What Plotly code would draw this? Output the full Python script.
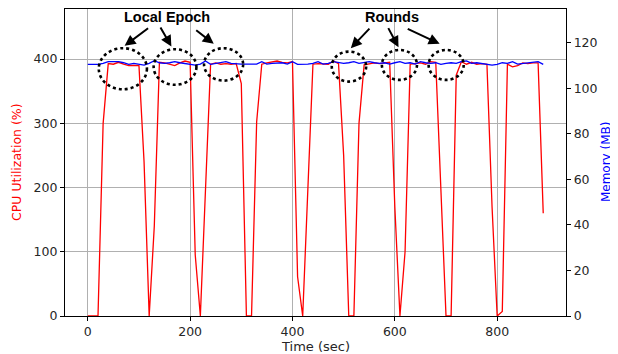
import plotly.graph_objects as go

# Sampling times (sec)
time_sec = [0, 10, 20, 30, 40, 50, 60, 70, 80, 90,
            100, 110, 120, 130, 140, 150, 160, 170, 180, 190,
            200, 210, 220, 230, 240, 250, 260, 270, 280, 290,
            300, 310, 320, 330, 340, 350, 360, 370, 380, 390,
            400, 410, 420, 430, 440, 450, 460, 470, 480, 490,
            500, 510, 520, 530, 540, 550, 560, 570, 580, 590,
            600, 610, 620, 630, 640, 650, 660, 670, 680, 690,
            700, 710, 720, 730, 740, 750, 760, 770, 780, 790,
            800, 810, 820, 830, 840, 850, 860, 870, 880, 890]

cpu_util = [0, 0, 0, 300, 393, 392, 395, 392, 390, 390,
            390, 240, 0, 140, 395, 394, 392, 390, 394, 397,
            395, 95, 0, 210, 392, 394, 392, 393, 392, 393,
            362, 0, 0, 302, 392, 394, 395, 397, 395, 394,
            396, 61, 0, 200, 392, 393, 392, 392, 397, 393,
            250, 0, 0, 300, 391, 393, 394, 393, 394, 395,
            170, 0, 100, 392, 393, 394, 392, 396, 395, 201,
            0, 0, 375, 396, 392, 395, 392, 393, 392, 170,
            0, 7, 392, 388, 390, 394, 393, 394, 394, 160]

memory_mb = [110.5, 110.5, 110.5, 110.9, 111.7, 111.7, 111.7, 111.2, 110.5, 110.9,
             110.5, 110.2, 110.9, 112.1, 111.2, 110.9, 111.2, 111.7, 111.2, 110.9,
             110.5, 110.2, 110.6, 112.0, 110.5, 110.9, 111.2, 111.7, 110.9, 110.6,
             110.6, 110.6, 110.6, 110.6, 111.7, 110.6, 110.9, 110.9, 111.2, 110.6,
             111.7, 110.5, 110.5, 110.6, 110.9, 111.7, 110.6, 110.9, 111.7, 111.2,
             110.9, 111.2, 111.7, 110.9, 111.2, 111.7, 111.2, 110.9, 111.2, 110.6,
             111.2, 111.7, 110.9, 111.2, 110.6, 111.7, 111.2, 110.9, 111.2, 110.5,
             110.9, 111.2, 110.9, 111.7, 112.0, 110.9, 111.2, 110.9, 110.5, 110.2,
             110.5, 111.2, 110.9, 111.7, 110.6, 110.9, 110.9, 111.2, 111.7, 110.5]

x_ticks = [0, 200, 400, 600, 800]
cpu_ticks = [0, 100, 200, 300, 400]
mem_ticks = [0, 20, 40, 60, 80, 100, 120]

FONT = "DejaVu Sans"
TICKCOL = "#262626"

fig = go.Figure()
fig.add_trace(go.Scatter(x=time_sec, y=cpu_util, mode="lines",
                         line=dict(color="#ff0000", width=1.3),
                         name="CPU", showlegend=False))
fig.add_trace(go.Scatter(x=time_sec, y=memory_mb, mode="lines", yaxis="y2",
                         line=dict(color="#0000ff", width=1.3),
                         name="Memory", showlegend=False))

# dotted circles (x in sec, y in CPU %)
circles = [
    (21.5, 353, 115.6, 417),
    (128.7, 360, 212.3, 415.4),
    (227.2, 366.5, 303.6, 417),
    (476.8, 365, 544, 411.7),
    (574.7, 367.6, 643.3, 414.3),
    (666, 367.6, 734.6, 414.3),
]
shapes = []
for x0, y0, x1, y1 in circles:
    shapes.append(dict(type="circle", xref="x", yref="y", x0=x0, y0=y0, x1=x1, y1=y1,
                       line=dict(color="black", width=2.6, dash="dot"), layer="above"))

arrows = [
    ((120.8, 449.7), (72, 420.6)),
    ((140.4, 451.7), (163.4, 419.5)),
    ((209, 446.6), (246.2, 423.7)),
    ((553.2, 449.7), (514, 417)),
    ((585.7, 450.6), (607.2, 418.5)),
    ((622.3, 448.1), (687.6, 423.7)),
]
annotations = []
for (tx, ty), (hx, hy) in arrows:
    annotations.append(dict(x=hx, y=hy, ax=tx, ay=ty, xref="x", yref="y",
                            axref="x", ayref="y", text="", showarrow=True,
                            arrowhead=2, arrowsize=1.1, arrowwidth=2, arrowcolor="black"))
annotations.append(dict(x=154, y=465, xref="x", yref="y", text="<b>Local Epoch</b>",
                        showarrow=False, font=dict(family="Liberation Sans", size=14.5, color="black")))
annotations.append(dict(x=595, y=465, xref="x", yref="y", text="<b>Rounds</b>",
                        showarrow=False, font=dict(family="Liberation Sans", size=14.5, color="black")))
# axis titles
annotations.append(dict(x=-0.0978, y=0.5016, xref="paper", yref="paper", text="CPU Utilization (%)",
                        showarrow=False, textangle=-90, xanchor="center", yanchor="middle",
                        font=dict(family=FONT, size=12.5, color="#ff0000")))
annotations.append(dict(x=1.08, y=0.5016, xref="paper", yref="paper", text="Memory (MB)",
                        showarrow=False, textangle=-90, xanchor="center", yanchor="middle",
                        font=dict(family=FONT, size=12, color="#0000ff")))
annotations.append(dict(x=0.5, y=-0.1, xref="paper", yref="paper", text="Time (sec)",
                        showarrow=False, xanchor="center", yanchor="middle",
                        font=dict(family=FONT, size=13, color=TICKCOL)))

# the page body adds an 8px offset, so the figure is 8px smaller than the window
fig.update_layout(
    width=610, height=346,
    margin=dict(l=57, r=52.3, t=1, b=38, autoexpand=False),
    paper_bgcolor="white", plot_bgcolor="white",
    font=dict(family=FONT, size=12.5, color=TICKCOL),
    shapes=shapes, annotations=annotations,
    xaxis=dict(range=[-44.5, 934.5], tickvals=x_ticks, ticks="outside", ticklen=4,
               tickcolor="black", showline=True, linecolor="black", linewidth=1.3,
               mirror=True, showgrid=True, gridcolor="#b0b0b0", gridwidth=1,
               zeroline=False, automargin=False),
    yaxis=dict(range=[0, 478], tickvals=cpu_ticks, ticks="outside", ticklen=4,
               tickcolor="black", showline=True, linecolor="black", linewidth=1.3,
               showgrid=True, gridcolor="#b0b0b0", gridwidth=1, zeroline=False,
               automargin=False),
    yaxis2=dict(range=[0, 134.8], tickvals=mem_ticks, ticks="outside", ticklen=4,
                tickcolor="black", overlaying="y", side="right", showline=True,
                linecolor="black", linewidth=1.3, showgrid=False, zeroline=False,
                automargin=False),
)

fig.write_html("out.html")
